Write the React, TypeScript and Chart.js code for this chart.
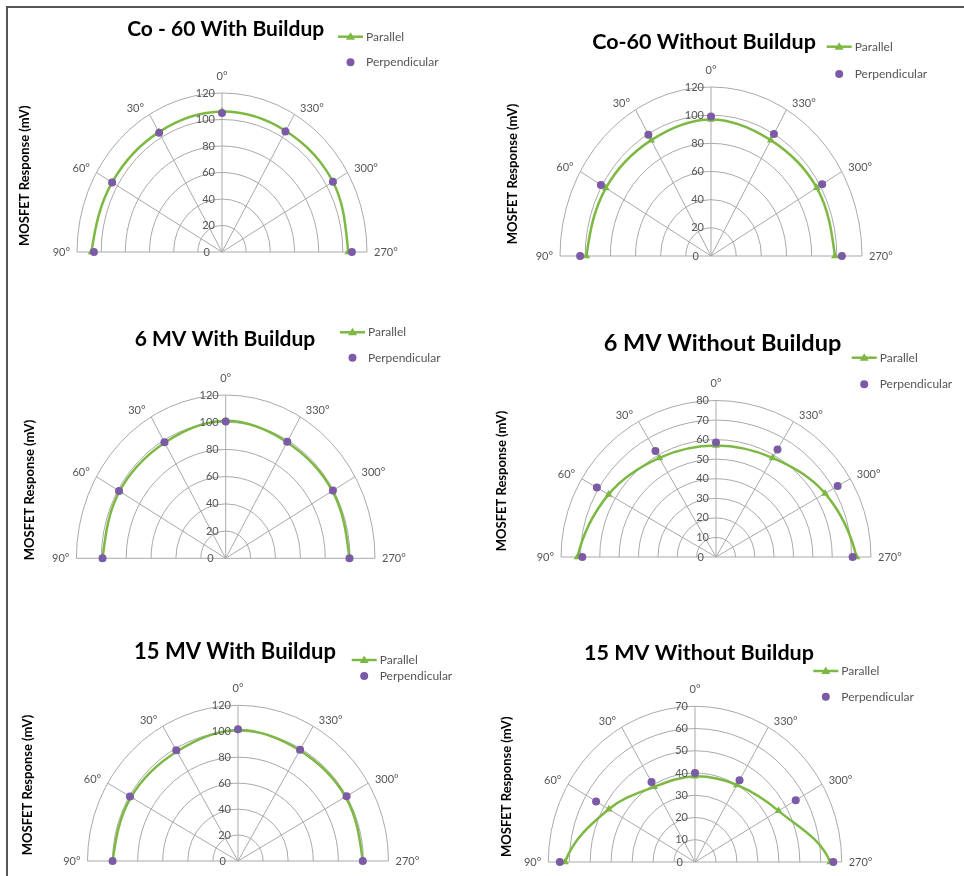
import React, { useEffect, useRef } from 'react';
import { Chart, registerables } from 'chart.js';

Chart.register(...registerables);

// ---------- data ----------
const ANGLES = [90, 60, 30, 0, 330, 300, 270];
const ANGLE_LABELS = ['90°', '60°', '30°', '0°', '330°', '300°', '270°'];
const SERIES_NAMES = ['Parallel', 'Perpendicular'];
const Y_TITLE = 'MOSFET Response (mV)';
const TITLES = [
  'Co - 60 With Buildup',
  'Co-60 Without Buildup',
  '6 MV With Buildup',
  '6 MV Without Buildup',
  '15 MV With Buildup',
  '15 MV Without Buildup',
];

// values follow ANGLES order: 90°, 60°, 30°, 0°, 330°, 300°, 270°
const co60WithParallel = [108, 105, 104.5, 106, 105.5, 106, 104.5];
const co60WithPerpendicular = [106, 105, 104, 105, 105, 106, 107.5];
const co60WithoutParallel = [99, 96.5, 95, 97, 95, 97, 98.5];
const co60WithoutPerpendicular = [104, 101, 99.5, 99, 100, 102, 104];
const mv6WithParallel = [99, 98.5, 98, 101, 98.5, 99, 99.5];
const mv6WithPerpendicular = [99, 99, 98.5, 100.5, 99, 99.5, 99.5];
const mv6WithoutParallel = [71.5, 64, 58.5, 57, 58.5, 65, 72.5];
const mv6WithoutPerpendicular = [69, 71, 62.5, 58.5, 63.5, 72.5, 70.5];
const mv15WithParallel = [100, 98.5, 97.5, 101, 98.5, 99, 99.5];
const mv15WithPerpendicular = [100, 99.5, 98.5, 101.5, 99, 100, 99.5];
const mv15WithoutParallel = [62, 47.5, 39, 38.5, 40, 46, 64.5];
const mv15WithoutPerpendicular = [64.5, 54.5, 41.5, 40, 42.5, 55.5, 66];

const RADIAL_MAX = [120, 120, 120, 80, 120, 70];
const RADIAL_STEP = [20, 20, 20, 10, 20, 10];

const PARALLEL_SERIES = [
  co60WithParallel, co60WithoutParallel, mv6WithParallel,
  mv6WithoutParallel, mv15WithParallel, mv15WithoutParallel,
];
const PERPENDICULAR_SERIES = [
  co60WithPerpendicular, co60WithoutPerpendicular, mv6WithPerpendicular,
  mv6WithoutPerpendicular, mv15WithPerpendicular, mv15WithoutPerpendicular,
];

// ---------- layout / style (page coordinates) ----------
const LAYOUT = [
  { canvas: [0, 0, 482, 296], center: [222, 252], radius: [145, 159], title: [225.7, 29, 21], legend: [338, 36.7, 62.3], yTitle: [25, 175.7] },
  { canvas: [482, 0, 482, 296], center: [711, 256], radius: [151, 169], title: [704, 41.7, 21.5], legend: [826.7, 46.7, 74], yTitle: [513.3, 174] },
  { canvas: [0, 296, 482, 300], center: [225.7, 558.3], radius: [149.3, 163.3], title: [225, 339.3, 21], legend: [340, 332.3, 357.7], yTitle: [30, 490] },
  { canvas: [482, 296, 482, 300], center: [716, 557], radius: [155, 156.5], title: [722.5, 343.3, 23.5], legend: [851.7, 357.7, 384.3], yTitle: [501.7, 481] },
  { canvas: [0, 596, 482, 280], center: [238, 861], radius: [150.5, 155.7], title: [235, 651.7, 22], legend: [351.7, 660, 676], yTitle: [28.3, 785] },
  { canvas: [482, 596, 482, 280], center: [695, 862], radius: [146.7, 155.7], title: [699, 653.3, 21.5], legend: [813.3, 671, 696.7], yTitle: [506.7, 786.7] },
];

const GREEN = '#7db843';
const PURPLE = '#7b5ba6';
const GRID = '#a9a9a9';
const LABEL = '#555555';
const FONT = 'Lato, "Open Sans", sans-serif';
const ANGLE_LABEL_DY: Record<number, number> = { 0: -17, 30: -6, 60: -4, 90: 0 };

const rad = (a: number) => (a * Math.PI) / 180;
const toXY = (vals: number[]) =>
  ANGLES.map((a, i) => ({ x: -vals[i] * Math.sin(rad(a)), y: vals[i] * Math.cos(rad(a)) }));

// bend the end tangent half way toward the vertical (arc direction at 90°/270°)
function bendEnd(p: any, key: 'cp1' | 'cp2') {
  const kx = key + 'x';
  const ky = key + 'y';
  const vx = p[kx] - p.x;
  const vy = p[ky] - p.y;
  const l = Math.hypot(vx, vy);
  if (!l) return;
  let dx = vx / l;
  let dy = vy / l - 1;
  const n = Math.hypot(dx, dy) || 1;
  dx /= n;
  dy /= n;
  p[kx] = p.x + dx * l;
  p[ky] = p.y + dy * l;
}

function makePlugin(idx: number, left: number, top: number) {
  const L = LAYOUT[idx];
  const max = RADIAL_MAX[idx];
  const step = RADIAL_STEP[idx];
  return {
    id: 'halfPolar' + idx,
    beforeDatasetsDraw(chart: any) {
      const ctx = chart.ctx as CanvasRenderingContext2D;
      const xs = chart.scales.x;
      const ys = chart.scales.y;
      const cx = xs.getPixelForValue(0);
      const cy = ys.getPixelForValue(0);

      const meta = chart.getDatasetMeta(0);
      const line = meta.dataset;
      if (line && meta.data.length > 1) {
        line.updateControlPoints(chart.chartArea, 'x');
        const pts = meta.data;
        bendEnd(pts[0], 'cp2');
        bendEnd(pts[pts.length - 1], 'cp1');
      }

      ctx.save();
      ctx.strokeStyle = GRID;
      ctx.lineWidth = 1;
      for (let v = step; v <= max + 1e-9; v += step) {
        const rx = xs.getPixelForValue(v) - cx;
        const ry = cy - ys.getPixelForValue(v);
        ctx.beginPath();
        ctx.ellipse(cx, cy, rx, ry, 0, Math.PI, 2 * Math.PI);
        ctx.stroke();
      }
      ANGLES.forEach((a) => {
        const px = xs.getPixelForValue(-max * Math.sin(rad(a)));
        const py = ys.getPixelForValue(max * Math.cos(rad(a)));
        ctx.beginPath();
        ctx.moveTo(cx, cy);
        ctx.lineTo(px, py);
        ctx.stroke();
      });
      // angle labels
      ctx.fillStyle = LABEL;
      ctx.font = `11px ${FONT}`;
      ctx.textBaseline = 'middle';
      ANGLES.forEach((a, i) => {
        const px = xs.getPixelForValue(-max * Math.sin(rad(a)));
        const py = ys.getPixelForValue(max * Math.cos(rad(a)));
        const d = a <= 180 ? a : 360 - a;
        const gap = 4 + 3 * Math.sin(rad(d));
        const dy = ANGLE_LABEL_DY[d] ?? 0;
        if (d === 0) {
          ctx.textAlign = 'center';
          ctx.fillText(ANGLE_LABELS[i], px, py + dy);
        } else if (a <= 180) {
          ctx.textAlign = 'right';
          ctx.fillText(ANGLE_LABELS[i], px - gap, py + dy);
        } else {
          ctx.textAlign = 'left';
          ctx.fillText(ANGLE_LABELS[i], px + gap, py + dy);
        }
      });
      ctx.restore();
    },
    afterDatasetsDraw(chart: any) {
      const ctx = chart.ctx as CanvasRenderingContext2D;
      const xs = chart.scales.x;
      const ys = chart.scales.y;
      const cx = xs.getPixelForValue(0);
      ctx.save();
      ctx.fillStyle = LABEL;
      ctx.font = `11px ${FONT}`;
      ctx.textBaseline = 'middle';
      ctx.textAlign = 'right';
      for (let v = 0; v <= max + 1e-9; v += step) {
        const y = ys.getPixelForValue(v);
        ctx.fillText(String(v), cx - (v === 0 ? 12 : 7), y);
      }
      // title
      ctx.fillStyle = '#000';
      ctx.font = `bold ${L.title[2]}px ${FONT}`;
      ctx.textAlign = 'center';
      ctx.fillText(TITLES[idx], L.title[0] - left, L.title[1] - top);
      // y title
      ctx.save();
      ctx.translate(L.yTitle[0] - left, L.yTitle[1] - top);
      ctx.rotate(-Math.PI / 2);
      ctx.font = `bold 13px ${FONT}`;
      ctx.fillText(Y_TITLE, 0, 0);
      ctx.restore();
      // legend
      const lx = L.legend[0] - left;
      const y1 = L.legend[1] - top;
      const y2 = L.legend[2] - top;
      ctx.strokeStyle = GREEN;
      ctx.lineWidth = 2.5;
      ctx.beginPath();
      ctx.moveTo(lx, y1);
      ctx.lineTo(lx + 25, y1);
      ctx.stroke();
      const tx = lx + 12.5;
      ctx.fillStyle = GREEN;
      ctx.beginPath();
      ctx.moveTo(tx, y1 - 4.5);
      ctx.lineTo(tx + 4.5, y1 + 3);
      ctx.lineTo(tx - 4.5, y1 + 3);
      ctx.closePath();
      ctx.fill();
      ctx.fillStyle = PURPLE;
      ctx.beginPath();
      ctx.arc(tx, y2, 4, 0, 2 * Math.PI);
      ctx.fill();
      ctx.fillStyle = LABEL;
      ctx.font = `12px ${FONT}`;
      ctx.textAlign = 'left';
      ctx.fillText(SERIES_NAMES[0], lx + 28, y1);
      ctx.fillText(SERIES_NAMES[1], lx + 28, y2);
      ctx.restore();
    },
  };
}

function PolarPanel({ idx }: { idx: number }) {
  const ref = useRef<HTMLCanvasElement>(null);
  const L = LAYOUT[idx];
  const [left, top, w, h] = L.canvas;
  useEffect(() => {
    if (!ref.current) return;
    const max = RADIAL_MAX[idx];
    const cxL = L.center[0] - left;
    const cyL = L.center[1] - top;
    const chart = new Chart(ref.current, {
      type: 'scatter',
      data: {
        datasets: [
          {
            label: SERIES_NAMES[0],
            data: toXY(PARALLEL_SERIES[idx]),
            showLine: true,
            borderColor: GREEN,
            backgroundColor: GREEN,
            borderWidth: 2.5,
            pointStyle: 'triangle',
            pointRadius: 4.5,
            pointBorderWidth: 0,
            tension: 0.36,
            clip: false,
            order: 1,
          } as any,
          {
            label: SERIES_NAMES[1],
            data: toXY(PERPENDICULAR_SERIES[idx]),
            showLine: false,
            borderColor: PURPLE,
            backgroundColor: PURPLE,
            pointStyle: 'circle',
            pointRadius: 4,
            pointBorderWidth: 0,
            clip: false,
            order: 0,
          } as any,
        ],
      },
      options: {
        responsive: false,
        animation: false,
        events: [],
        layout: {
          padding: {
            left: cxL - L.radius[0],
            right: w - (cxL + L.radius[0]),
            top: cyL - L.radius[1],
            bottom: h - cyL,
          },
        },
        scales: {
          x: { type: 'linear', display: false, min: -max, max: max },
          y: { type: 'linear', display: false, min: 0, max: max },
        },
        plugins: {
          legend: { display: false },
          title: { display: false },
          tooltip: { enabled: false },
        },
      },
      plugins: [makePlugin(idx, left, top)],
    });
    return () => chart.destroy();
  }, []);
  return (
    <canvas
      ref={ref}
      width={w}
      height={h}
      style={{ position: 'absolute', left, top, width: w, height: h }}
    />
  );
}

export default function App() {
  return (
    <div style={{ position: 'absolute', left: 0, top: 0, width: 964, height: 876, background: '#fff', overflow: 'hidden' }}>
      <div
        style={{
          position: 'absolute',
          left: 6,
          top: 6,
          right: -4,
          bottom: -4,
          borderLeft: '2px solid #555',
          borderTop: '2px solid #555',
        }}
      />
      {LAYOUT.map((_, i) => (
        <PolarPanel key={i} idx={i} />
      ))}
    </div>
  );
}
